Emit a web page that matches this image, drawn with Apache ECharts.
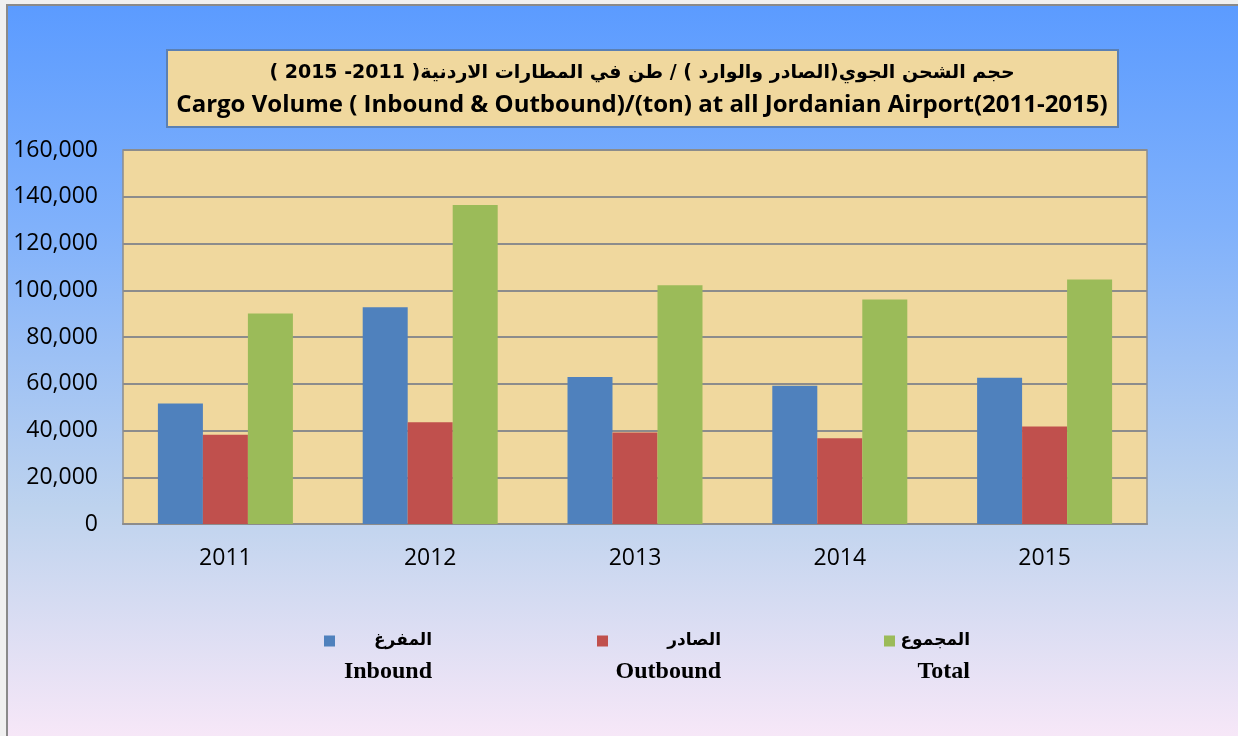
<!DOCTYPE html>
<html>
<head>
<meta charset="utf-8">
<script src="https://cdn.jsdelivr.net/npm/echarts@6/dist/echarts.min.js"></script>
<style>
  html, body { margin: 0; padding: 0; background: #f0f0f0; }
  #chart { width: 1238px; height: 736px; }
</style>
</head>
<body>
<div id="chart"></div>
<script>
// values (ton)
const years = ['2011', '2012', '2013', '2014', '2015']
const inbound = [51600, 92750, 62840, 59150, 62560]
const outbound = [38150, 43560, 39150, 36730, 41700]
const total = [90040, 136440, 102130, 96020, 104550]

const arabicNames = { Inbound: 'المفرغ', Outbound: 'الصادر', Total: 'المجموع' }
const titleAr = '\u202Bحجم الشحن الجوي(الصادر والوارد ) / طن في المطارات الاردنية( 2011- 2015 )\u202C'
const titleEn = 'Cargo Volume ( Inbound & Outbound)/(ton) at all Jordanian Airport(2011-2015)'

const chart = echarts.init(document.getElementById('chart'), null, { renderer: 'canvas' })

// one legend per series, text block right-aligned next to the square
function legendFor(name, left, textWidth) {
  return {
    data: [name],
    left: left,
    top: 599,
    icon: 'rect',
    itemWidth: 11,
    itemHeight: 11,
    selectedMode: false,
    formatter: n => `{sp| }\n{ar|${arabicNames[n]}}\n{en|${n}}`,
    textStyle: {
      rich: {
        sp: { lineHeight: 31, width: textWidth },
        ar: {
          fontFamily: 'DejaVu Sans', fontWeight: 'bold', fontSize: 17,
          color: '#000', align: 'right', width: textWidth, lineHeight: 31
        },
        en: {
          fontFamily: 'Liberation Serif', fontWeight: 'bold', fontSize: 24,
          color: '#000', align: 'right', width: textWidth, lineHeight: 31
        }
      }
    }
  }
}

chart.setOption({
  animation: false,
  graphic: [
    {
      type: 'rect',
      z: -10,
      silent: true,
      shape: { x: 7, y: 5, width: 1240, height: 740 },
      style: {
        fill: {
          type: 'linear', x: 0, y: 0, x2: 0, y2: 1,
          colorStops: [
            { offset: 0, color: '#5b9bff' },
            { offset: 0.3, color: '#80b1fb' },
            { offset: 0.68, color: '#bed3ee' },
            { offset: 1, color: '#f9e8f8' }
          ]
        },
        stroke: '#8a8a8a',
        lineWidth: 2
      }
    },
    {
      type: 'rect',
      z: -5,
      silent: true,
      shape: { x: 167, y: 50, width: 951, height: 77 },
      style: { fill: '#f0d89e', stroke: '#5b80b3', lineWidth: 2 }
    }
  ],
  title: {
    text: `{ar|${titleAr}}\n{en|${titleEn}}`,
    left: 642,
    top: 57,
    textAlign: 'center',
    padding: 0,
    textStyle: {
      rich: {
        ar: {
          fontFamily: 'DejaVu Sans', fontWeight: 'bold', fontSize: 19,
          color: '#000', lineHeight: 32, align: 'center'
        },
        en: {
          fontFamily: 'Open Sans', fontWeight: 'bold', fontSize: 24,
          color: '#000', lineHeight: 32, align: 'center'
        }
      }
    }
  },
  legend: [
    legendFor('Inbound', 319, 92),
    legendFor('Outbound', 592, 108),
    legendFor('Total', 879, 70)
  ],
  grid: {
    left: 123,
    right: 91,
    top: 150,
    bottom: 212,
    show: true,
    backgroundColor: '#f0d89e',
    borderColor: '#8c8c8c',
    borderWidth: 1.5
  },
  xAxis: {
    type: 'category',
    data: years,
    axisTick: { show: false },
    axisLine: { lineStyle: { color: '#8c8c8c', width: 2 } },
    axisLabel: { color: '#000', fontFamily: 'Open Sans', fontSize: 23, margin: 23 }
  },
  yAxis: {
    type: 'value',
    min: 0,
    max: 160000,
    interval: 20000,
    axisLine: { show: false },
    axisTick: { show: false },
    axisLabel: {
      color: '#000', fontFamily: 'Open Sans', fontSize: 23, margin: 25,
      formatter: v => v.toLocaleString('en-US')
    },
    splitLine: { lineStyle: { color: '#8c8c8c', width: 2 } }
  },
  series: [
    { name: 'Inbound', type: 'bar', data: inbound, barWidth: 45, barGap: '0%', itemStyle: { color: '#4f81bd' } },
    { name: 'Outbound', type: 'bar', data: outbound, barWidth: 45, barGap: '0%', itemStyle: { color: '#c0504d' } },
    { name: 'Total', type: 'bar', data: total, barWidth: 45, barGap: '0%', itemStyle: { color: '#9bbb59' } }
  ]
})
</script>
</body>
</html>
